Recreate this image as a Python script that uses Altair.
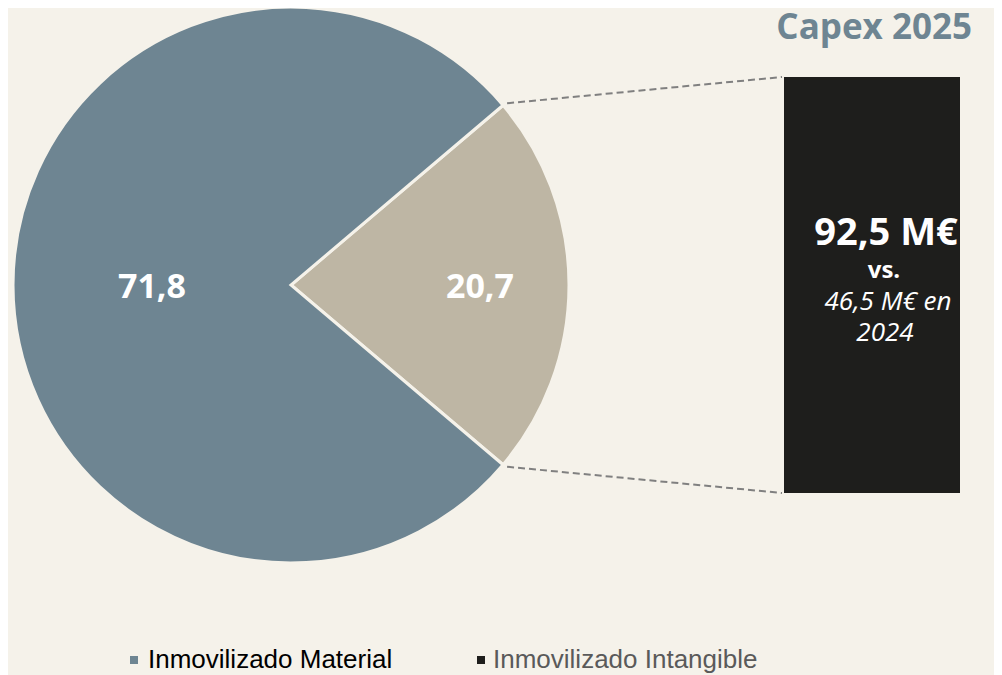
import math
import altair as alt
import pandas as pd

# ---- data ----
categories = ["Inmovilizado Intangible", "Inmovilizado Material"]
values = [20.7, 71.8]
labels = ["20,7", "71,8"]
order = [0, 1]
title_text = "Capex 2025"
box_lines = ["92,5 M€", "vs.", "46,5 M€ en", "2024"]
legend_labels = ["Inmovilizado Material", "Inmovilizado Intangible"]

BG = "#f5f2ea"
C_MAT = "#6e8592"
C_INT = "#beb6a4"
C_BOX = "#1e1e1c"

W, H = 986, 667
CX, CY, R = 283, 277, 278

df = pd.DataFrame({"cat": categories, "value": values, "label": labels, "ord": order})

total = sum(values)
frac = values[0] / total
start = math.pi / 2 - frac * math.pi
end_small = start + frac * 2 * math.pi

base = alt.Chart(df)

theta = alt.Theta("value:Q", stack=True, scale=alt.Scale(range=[start, start + 2 * math.pi]))

pie = base.mark_arc(stroke=BG, strokeWidth=3).encode(
    theta=theta,
    order=alt.Order("ord:Q"),
    color=alt.Color("cat:N", scale=alt.Scale(domain=categories, range=[C_INT, C_MAT]), legend=None),
    x=alt.value(CX),
    y=alt.value(CY),
    radius=alt.value(R),
)

lab_mat = base.transform_calculate(
    t="datum.cat == 'Inmovilizado Material' ? datum.label : ''"
).mark_text(font="Open Sans", fontWeight="bold", fontSize=34, color="white",
            align="center", baseline="middle").encode(
    theta=theta, order=alt.Order("ord:Q"), text="t:N",
    x=alt.value(CX), y=alt.value(CY + 3), radius=alt.value(139),
)
lab_int = base.transform_calculate(
    t="datum.cat == 'Inmovilizado Intangible' ? datum.label : ''"
).mark_text(font="Open Sans", fontWeight="bold", fontSize=34, color="white",
            align="center", baseline="middle").encode(
    theta=theta, order=alt.Order("ord:Q"), text="t:N",
    x=alt.value(CX), y=alt.value(CY + 3), radius=alt.value(189),
)

# connectors from slice edges (derived from data) to the box corners
p1 = (CX + R * math.sin(start), CY - R * math.cos(start))
p2 = (CX + R * math.sin(end_small), CY - R * math.cos(end_small))
BX1, BX2, BY1, BY2 = 776, 952, 69, 485

conn_df = pd.DataFrame({"x": [p1[0] + 4, p2[0] + 4], "y": [p1[1] - 2, p2[1] + 2],
                        "x2": [BX1 - 2, BX1 - 2], "y2": [BY1, BY2]})
pix_x = alt.Scale(domain=[0, W], range=[0, W])
pix_y = alt.Scale(domain=[0, H], range=[0, H])
conn = alt.Chart(conn_df).mark_rule(color="#808080", strokeWidth=2, strokeDash=[7, 4]).encode(
    x=alt.X("x:Q", scale=pix_x, axis=None), y=alt.Y("y:Q", scale=pix_y, axis=None),
    x2="x2:Q", y2="y2:Q",
)

one = alt.Chart(pd.DataFrame({"a": [0]}))
box = one.mark_rect(color=C_BOX).encode(
    x=alt.value(BX1), x2=alt.value(BX2), y=alt.value(BY1), y2=alt.value(BY2))

TX = 878
t1 = one.mark_text(text=box_lines[0], font="Open Sans", fontWeight="bold", fontSize=38,
                   color="white", align="center", baseline="alphabetic").encode(
    x=alt.value(TX), y=alt.value(237))
t2 = one.mark_text(text=box_lines[1], font="Open Sans", fontWeight="bold", fontSize=24,
                   color="white", align="center", baseline="alphabetic").encode(
    x=alt.value(TX - 2), y=alt.value(270))
t3 = one.mark_text(text=box_lines[2], font="Open Sans", fontStyle="italic", fontSize=26,
                   color="white", align="center", baseline="alphabetic").encode(
    x=alt.value(TX + 2), y=alt.value(302))
t4 = one.mark_text(text=box_lines[3], font="Open Sans", fontStyle="italic", fontSize=26,
                   color="white", align="center", baseline="alphabetic").encode(
    x=alt.value(TX - 1), y=alt.value(333))

title = one.mark_text(text=title_text, font="Open Sans", fontWeight="bold", fontSize=35,
                      color=C_MAT, align="right", baseline="alphabetic").encode(
    x=alt.value(964), y=alt.value(31))

sq1 = one.mark_square(size=64, color=C_MAT, opacity=1).encode(x=alt.value(126), y=alt.value(652))
sq2 = one.mark_square(size=64, color="#1e1e1c", opacity=1).encode(x=alt.value(473), y=alt.value(652))
lg1 = one.mark_text(text=legend_labels[0], font="Liberation Sans", fontSize=26, color="black",
                    align="left", baseline="alphabetic").encode(x=alt.value(140), y=alt.value(660))
lg2 = one.mark_text(text=legend_labels[1], font="Liberation Sans", fontSize=26, color="#5a5a5a",
                    align="left", baseline="alphabetic").encode(x=alt.value(485), y=alt.value(660))

chart = alt.layer(pie, lab_mat, lab_int, conn, box, t1, t2, t3, t4, title, sq1, sq2, lg1, lg2).properties(
    width=W, height=H, background=BG, padding=0, autosize="none"
).configure_view(stroke=None)

chart.save("out.html", embed_options={"renderer": "svg", "actions": False})
